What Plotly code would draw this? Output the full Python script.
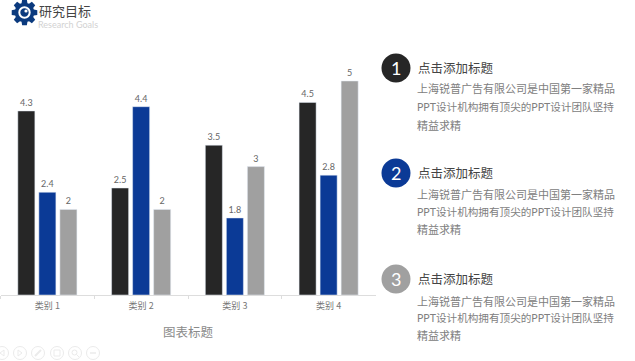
import math
import plotly.graph_objects as go

categories = ["类别 1", "类别 2", "类别 3", "类别 4"]
series_a = [4.3, 2.5, 3.5, 4.5]
series_b = [2.4, 4.4, 1.8, 2.8]
series_c = [2, 2, 3, 5]
series_names = ["系列 1", "系列 2", "系列 3"]
colors = ["#262626", "#0b3a96", "#a0a0a0"]

chart_title = "图表标题"
page_title = "研究目标"
page_subtitle = "Research Goals"
heading = "点击添加标题"
body_lines = ["上海锐普广告有限公司是中国第一家精品",
              "PPT设计机构拥有顶尖的PPT设计团队坚持",
              "精益求精"]
block_numbers = ["1", "2", "3"]
block_colors = ["#262626", "#0b3a96", "#a0a0a0"]

W, H = 635, 361
CJK = "Noto Sans CJK SC"


def px(x):
    return x / W


def py(y):
    return 1 - y / H


fig = go.Figure()
for name, vals, col in zip(series_names, [series_a, series_b, series_c], colors):
    fig.add_trace(go.Bar(
        x=categories, y=vals, name=name, marker_color=col,
        text=[str(v) for v in vals], textposition="outside",
        textfont=dict(family="Lato, " + CJK, size=9, color="#666666"),
        cliponaxis=False, hoverinfo="skip",
    ))

shapes = []
annotations = []


def text(x, y, s, size, color, anchor="left", family=CJK):
    annotations.append(dict(x=px(x), y=py(y), xref="paper", yref="paper", text=s,
                            showarrow=False, xanchor=anchor, yanchor="middle",
                            font=dict(family=family, size=size, color=color),
                            borderpad=0, borderwidth=0))


def circle(cx, cy, r, fill=None, line=None, lw=1):
    shapes.append(dict(type="circle", xref="paper", yref="paper",
                       x0=px(cx - r), x1=px(cx + r), y0=py(cy + r), y1=py(cy - r),
                       fillcolor=fill if fill else "rgba(0,0,0,0)",
                       line=dict(color=line if line else "rgba(0,0,0,0)", width=lw)))


def poly(points, fill=None, line=None, lw=1, closed=True):
    p = "M " + " L ".join(f"{px(x):.5f},{py(y):.5f}" for x, y in points) + (" Z" if closed else "")
    shapes.append(dict(type="path", xref="paper", yref="paper", path=p,
                       fillcolor=fill if fill else "rgba(0,0,0,0)",
                       line=dict(color=line if line else "rgba(0,0,0,0)", width=lw if line else 0)))


# Gear logo
gear_cx, gear_cy, teeth = 24.5, 12.5, 8
pts = []
for i in range(teeth):
    a = 2 * math.pi * i / teeth
    step = 2 * math.pi / teeth
    for off, rad in [(-0.30, 9.8), (-0.18, 13), (0.18, 13), (0.30, 9.8)]:
        t = a + off * step * 1.3
        pts.append((gear_cx + rad * math.cos(t), gear_cy + rad * math.sin(t)))
poly(pts, fill="#0b3a7e")
circle(gear_cx, gear_cy, 6.2, fill="#ffffff")
circle(gear_cx, gear_cy, 4.2, fill="#0b3a7e")
circle(gear_cx + 1.5, gear_cy - 1.5, 1.6, fill="#ffffff")

text(39, 10.5, page_title, 13, "#444444")
text(38, 24, page_subtitle, 9, "#d2d2d2", family="Lato")

# Text blocks
block_y = [68, 173, 279]
body_offsets = [[21, 39, 57], [22, 39, 56], [22, 39, 56]]
line_sizes = [11, 10.6, 11]
for num, col, y0, offs in zip(block_numbers, block_colors, block_y, body_offsets):
    circle(396, y0, 14.5, fill=col)
    text(396, y0, num, 18, "#ffffff", anchor="center", family="Lato")
    text(418, y0 - 0.5, heading, 12.5, "#444444")
    for line, off, size in zip(body_lines, offs, line_sizes):
        text(417, y0 + off, line, size, "#808080", family="Lato, " + CJK)

# Faint slide-show controls
ctrl = "#ebebeb"
for cx in [2, 20, 38, 57, 75, 93]:
    circle(cx, 353, 6.5, line=ctrl, lw=1)
poly([(4, 350), (0, 353), (4, 356)], line=ctrl)
poly([(18, 350), (22, 353), (18, 356)], line=ctrl)
poly([(35, 356), (41, 350)], line=ctrl, lw=2, closed=False)
poly([(54, 350), (60, 350), (60, 356), (54, 356)], line=ctrl)
circle(74.5, 352.5, 2.5, line=ctrl)
poly([(76.5, 354.5), (79, 357)], line=ctrl, closed=False)
poly([(90, 353), (96, 353)], line=ctrl, lw=1.5, closed=False)

fig.update_layout(
    width=W, height=H, autosize=False,
    margin=dict(l=0, r=0, t=0, b=0),
    paper_bgcolor="#ffffff", plot_bgcolor="#ffffff",
    showlegend=False, barmode="group", bargap=0.327, bargroupgap=0.19,
    title=dict(text=chart_title, x=px(188), y=py(333), xref="paper", yref="paper",
               xanchor="center", yanchor="middle",
               font=dict(family=CJK, size=12.5, color="#8a8a8a")),
    xaxis=dict(domain=[0.5 / W, 375.5 / W], type="category", tickson="boundaries",
               ticks="outside", ticklen=3, tickcolor="#dddddd",
               showline=True, linecolor="#dddddd", linewidth=1, showgrid=False,
               ticklabelstandoff=2,
               tickfont=dict(family=CJK, size=9, color="#777777"), automargin=False),
    yaxis=dict(domain=[py(295), py(38.2)], range=[0, 6], visible=False,
               showgrid=False, zeroline=False),
    shapes=shapes, annotations=annotations,
)

fig.write_html("out.html", config=dict(displayModeBar=False),
               post_script="document.body.style.margin='0';document.documentElement.style.overflow='hidden';")
